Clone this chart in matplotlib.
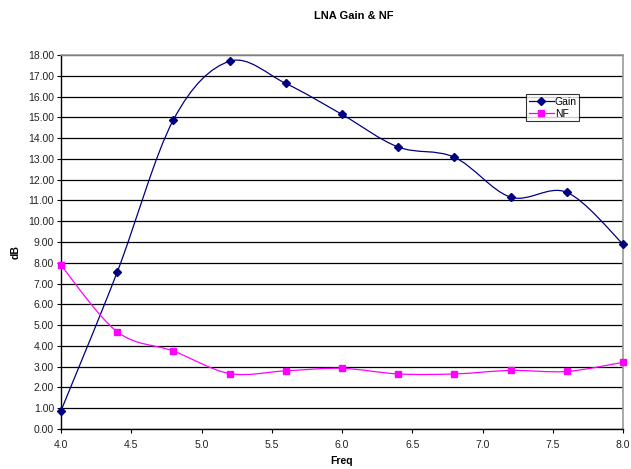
import numpy as np
import matplotlib
matplotlib.use("Agg")
import matplotlib.pyplot as plt
from matplotlib.path import Path
from matplotlib.patches import PathPatch
from matplotlib.lines import Line2D

plt.rcParams['font.family'] = ['Liberation Sans', 'DejaVu Sans']

# ---- data ----
freq = [4.0, 4.4, 4.8, 5.2, 5.6, 6.0, 6.4, 6.8, 7.2, 7.6, 8.0]
gain = [0.88, 7.55, 14.88, 17.70, 16.63, 15.14, 13.57, 13.08, 11.16, 11.39, 8.90]
nf = [7.88, 4.68, 3.75, 2.67, 2.80, 2.92, 2.65, 2.65, 2.82, 2.77, 3.21]

GAIN_COL = '#000080'
NF_COL = '#FF00FF'


def smooth_path(x, y):
    # Catmull-Rom style cubic Bezier through every point (spreadsheet "smoothed line")
    pts = np.column_stack([np.asarray(x, float), np.asarray(y, float)])
    n = len(pts)
    verts = [pts[0]]
    codes = [Path.MOVETO]
    for i in range(n - 1):
        p0 = pts[i - 1] if i > 0 else pts[i]
        p1 = pts[i]
        p2 = pts[i + 1]
        p3 = pts[i + 2] if i + 2 < n else pts[i + 1]
        verts += [p1 + (p2 - p0) / 6.0, p2 - (p3 - p1) / 6.0, p2]
        codes += [Path.CURVE4] * 3
    return Path(verts, codes)


fig = plt.figure(figsize=(6.31, 4.69), dpi=100)
ax = fig.add_axes([61 / 631, 1 - 429 / 469, (623 - 61) / 631, (429 - 55) / 469])

ax.set_xlim(4.0, 8.0)
ax.set_ylim(0, 18)
ax.set_yticks(np.arange(0, 19, 1))
ax.set_yticklabels([f'{v:.2f}' for v in range(19)])
ax.set_xticks(np.arange(4.0, 8.01, 0.5))
ax.set_xticklabels([f'{v:.1f}' for v in np.arange(4.0, 8.01, 0.5)])
ax.tick_params(labelsize=7.5, length=3, width=0.8, color='black', labelcolor='#222222')
ax.tick_params(axis='y', pad=2)
ax.tick_params(axis='x', pad=5)

ax.yaxis.grid(True, color='black', linewidth=0.9)
ax.set_axisbelow(True)
for s in ['top', 'right']:
    ax.spines[s].set_color('#999999')
    ax.spines[s].set_linewidth(1.2)
for s in ['left', 'bottom']:
    ax.spines[s].set_color('black')
    ax.spines[s].set_linewidth(1.0)

# curves + markers
ax.add_patch(PathPatch(smooth_path(freq, gain), fill=False, edgecolor=GAIN_COL, linewidth=0.9, clip_on=False))
ax.add_patch(PathPatch(smooth_path(freq, nf), fill=False, edgecolor=NF_COL, linewidth=0.9, clip_on=False))
ax.plot(freq, gain, linestyle='none', marker='D', markersize=3.8, color=GAIN_COL, clip_on=False, zorder=4)
ax.plot(freq, nf, linestyle='none', marker='s', markersize=4.8, color=NF_COL, clip_on=False, zorder=4)

handles = [Line2D([], [], color=GAIN_COL, marker='D', markersize=3.8, linewidth=0.9),
           Line2D([], [], color=NF_COL, marker='s', markersize=4.8, linewidth=0.9)]
leg = ax.legend(handles, ['Gain', 'NF'], loc='upper left',
                bbox_to_anchor=((526 - 61) / 562, 1 - (94 - 55) / 374),
                fontsize=7.5, frameon=True, fancybox=False, borderpad=0.25, handlelength=2.4,
                handletextpad=0.1, labelspacing=0.2, borderaxespad=0)
leg.get_frame().set_edgecolor('black')
leg.get_frame().set_linewidth(0.8)

fig.text(354 / 631, 1 - 16 / 469, 'LNA Gain & NF', ha='center', va='center', fontsize=8, fontweight='bold')
fig.text(342 / 631, 1 - 461 / 469, 'Freq', ha='center', va='center', fontsize=7.5, fontweight='bold')
fig.text(16 / 631, 1 - 252 / 469, 'dB', ha='center', va='center', fontsize=7.5, fontweight='bold', rotation=90)

fig.savefig('out.png', dpi=100)
